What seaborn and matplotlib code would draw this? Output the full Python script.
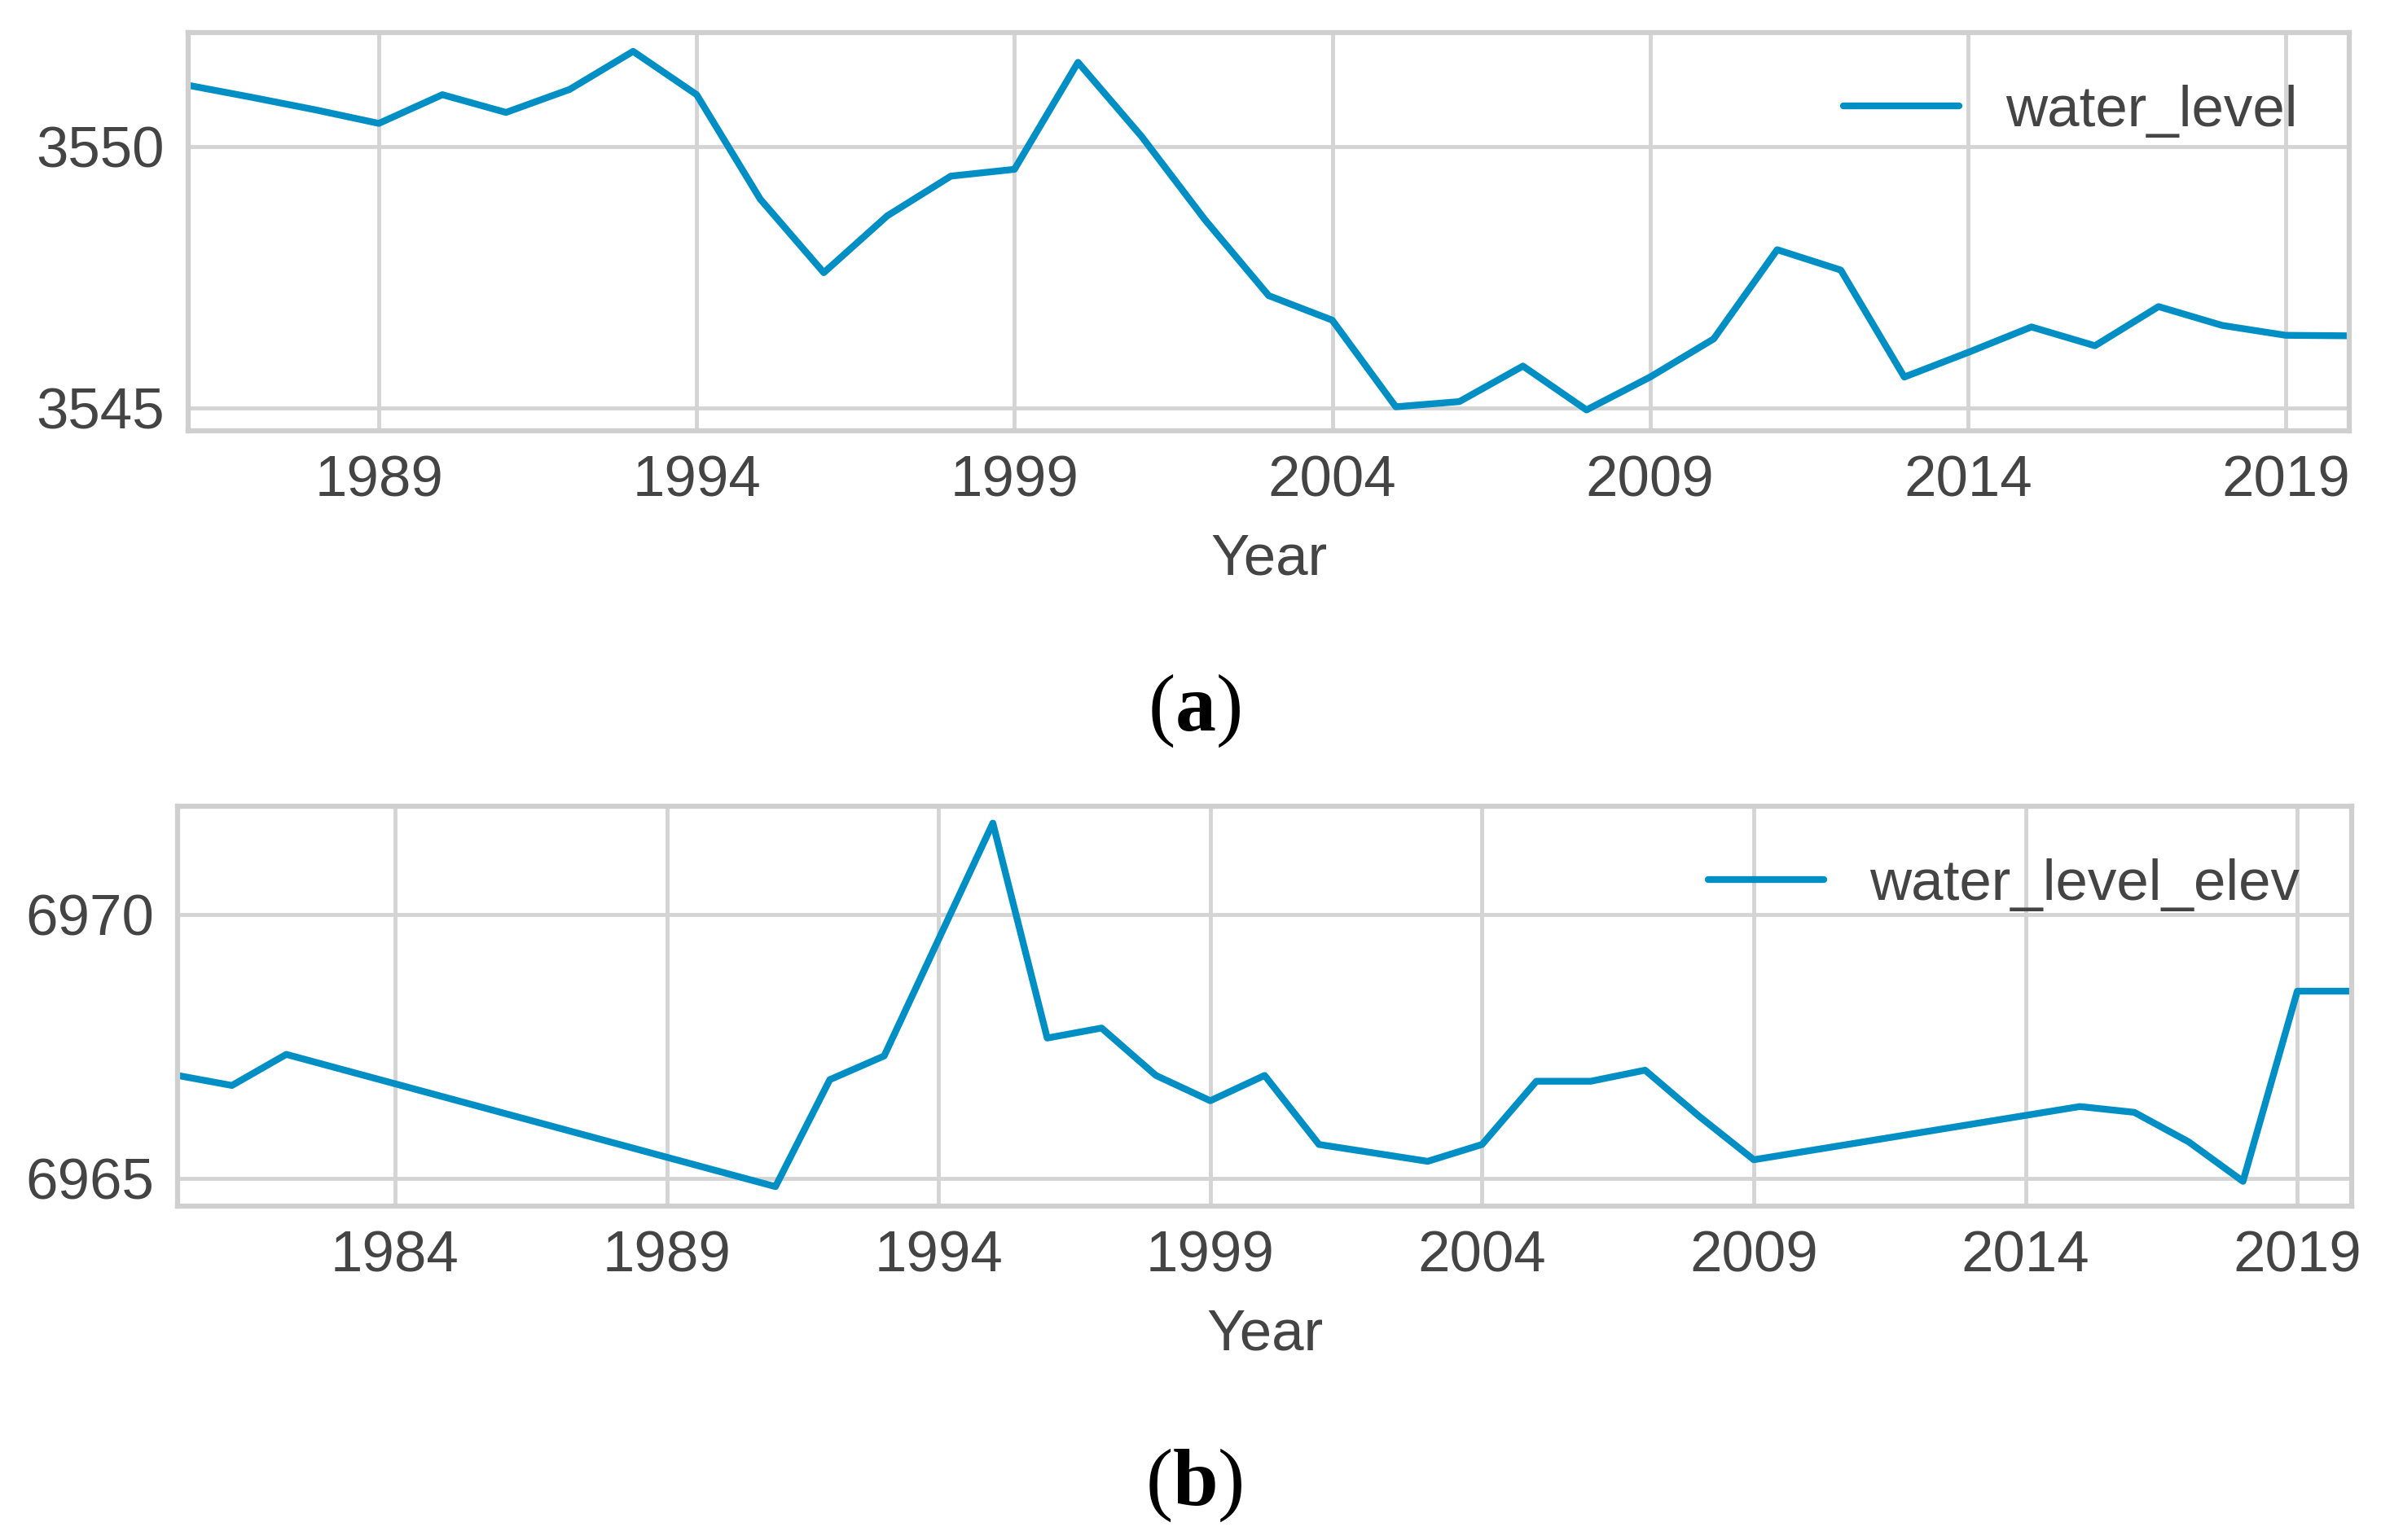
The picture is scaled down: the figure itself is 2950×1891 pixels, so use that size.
import matplotlib
matplotlib.use("Agg")
import matplotlib.pyplot as plt
import seaborn as sns

# Panel (a): water level by year
years_a = list(range(1986, 2021))
level_a = [3551.18, 3550.95, 3550.71, 3550.45, 3551.00, 3550.66, 3551.10, 3551.83,
           3551.00, 3549.00, 3547.59, 3548.68, 3549.44, 3549.57, 3551.62, 3550.20,
           3548.60, 3547.15, 3546.68, 3545.02, 3545.12, 3545.80, 3544.96, 3545.59,
           3546.32, 3548.03, 3547.64, 3545.59, 3546.06, 3546.55, 3546.19, 3546.94,
           3546.58, 3546.39, 3546.38]
xticks_a = [1989, 1994, 1999, 2004, 2009, 2014, 2019]
yticks_a = [3545, 3550]

# Panel (b): water level elevation by year
years_b = [1980, 1981, 1982, 1991, 1992, 1993, 1994, 1995, 1996, 1997, 1998, 1999,
           2000, 2001, 2002, 2003, 2004, 2005, 2006, 2007, 2008, 2009, 2015, 2016,
           2017, 2018, 2019, 2020]
level_b = [6966.95, 6966.76, 6967.35, 6964.84, 6966.87, 6967.32, 6969.53, 6971.74,
           6967.66, 6967.85, 6966.95, 6966.47, 6966.95, 6965.64, 6965.48, 6965.32,
           6965.64, 6966.84, 6966.84, 6967.05, 6966.17, 6965.35, 6966.36, 6966.25,
           6965.69, 6964.94, 6968.55, 6968.55]
xticks_b = [1984, 1989, 1994, 1999, 2004, 2009, 2014, 2019]
yticks_b = [6965, 6970]

LINE_COLOR = "#008fc4"
GRID_COLOR = "#d4d4d4"
TEXT_COLOR = "#444444"
FS = 51

sns.set_theme(style="whitegrid")
plt.rcParams["font.family"] = ["Liberation Sans", "DejaVu Sans"]
plt.rcParams["mathtext.fontset"] = "custom"
plt.rcParams["mathtext.rm"] = "Liberation Serif"
plt.rcParams["mathtext.bf"] = "Liberation Serif:bold"

W, H = 2950, 1891
fig = plt.figure(figsize=(W / 100, H / 100), dpi=100)


def px_axes(left, top, right, bottom):
    return fig.add_axes([left / W, 1 - bottom / H, (right - left) / W, (bottom - top) / H])


def style_panel(ax, xlim, ylim, xticks, yticks, label):
    ax.set_xlim(*xlim)
    ax.set_ylim(*ylim)
    ax.set_xticks(xticks)
    ax.set_yticks(yticks)
    ax.set_xticklabels([str(t) for t in xticks])
    ax.set_yticklabels([str(t) for t in yticks])
    ax.tick_params(axis="both", length=0, pad=21, labelsize=FS, labelcolor=TEXT_COLOR)
    ax.grid(True, color=GRID_COLOR, linewidth=3.5)
    for s in ax.spines.values():
        s.set_color("#cfcfcf")
        s.set_linewidth(4.5)
    ax.set_xlabel("Year", fontsize=FS, color=TEXT_COLOR, labelpad=22)
    ax.set_ylabel("")
    leg = ax.legend([label], loc="upper right", frameon=False, fontsize=FS,
                    handlelength=2.0, handletextpad=0.8, borderaxespad=0.5)
    for t in leg.get_texts():
        t.set_color(TEXT_COLOR)


ax_a = px_axes(231, 40, 2884, 529)
sns.lineplot(x=years_a, y=level_a, ax=ax_a, color=LINE_COLOR, linewidth=6)
style_panel(ax_a, (1986, 2020), (3544.56, 3552.19), xticks_a, yticks_a, "water_level")

ax_b = px_axes(218, 990, 2887, 1481)
sns.lineplot(x=years_b, y=level_b, ax=ax_b, color=LINE_COLOR, linewidth=6)
style_panel(ax_b, (1980, 2020), (6964.47, 6972.06), xticks_b, yticks_b, "water_level_elev")

fig.text(1466 / W, 1 - 873 / H, r"($\mathbf{a}$)", family="Liberation Serif",
         fontsize=72, ha="center", va="center", color="black")
fig.text(1466 / W, 1 - 1824 / H, r"($\mathbf{b}$)", family="Liberation Serif",
         fontsize=72, ha="center", va="center", color="black")

fig.savefig("out.png", dpi=100, facecolor="white")
